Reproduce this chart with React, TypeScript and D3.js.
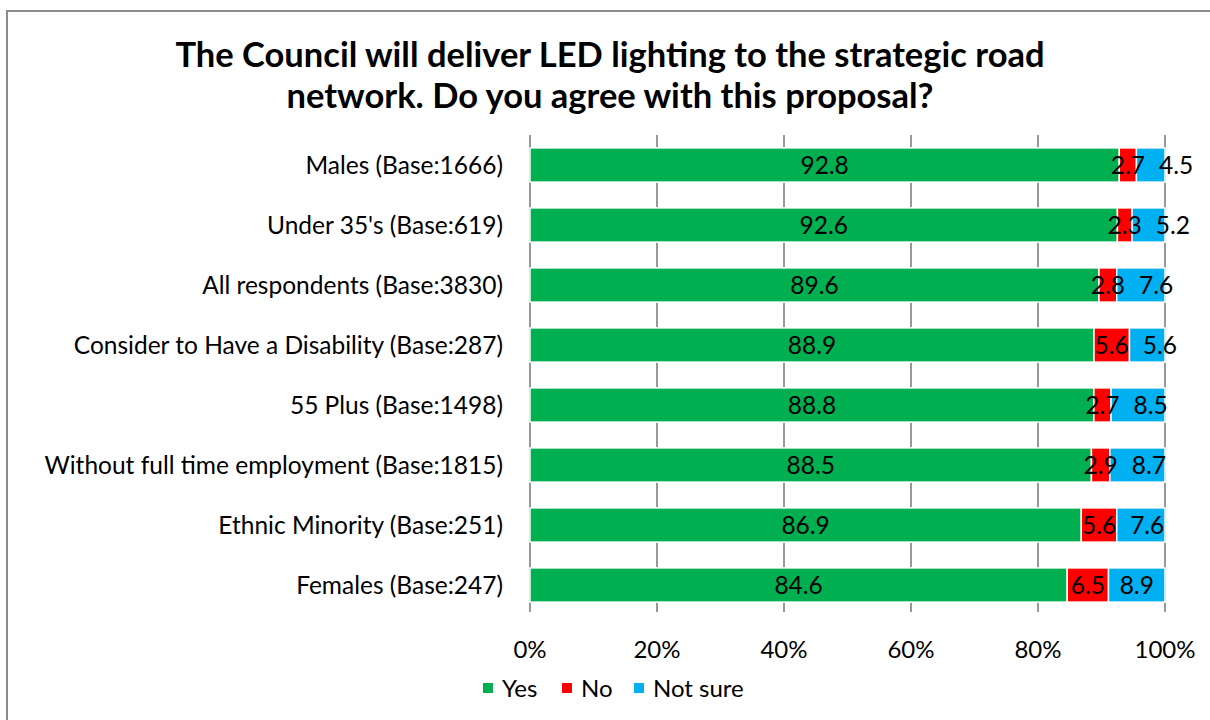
import React from "react";
import * as d3 from "d3";

const categories = [
  "Males (Base:1666)",
  "Under 35's (Base:619)",
  "All respondents (Base:3830)",
  "Consider to Have a Disability (Base:287)",
  "55 Plus (Base:1498)",
  "Without full time employment (Base:1815)",
  "Ethnic Minority (Base:251)",
  "Females (Base:247)",
];
const yesValues = [92.8, 92.6, 89.6, 88.9, 88.8, 88.5, 86.9, 84.6];
const noValues = [2.7, 2.3, 2.8, 5.6, 2.7, 2.9, 5.6, 6.5];
const notSureValues = [4.5, 5.2, 7.6, 5.6, 8.5, 8.7, 7.6, 8.9];
const seriesNames = ["Yes", "No", "Not sure"];
const seriesColors = ["#00B050", "#FF0000", "#00B0F0"];
const xTicks = [0, 0.2, 0.4, 0.6, 0.8, 1];
const titleLines = [
  "The Council will deliver LED lighting to the strategic road",
  "network. Do you agree with this proposal?",
];

const W = 1210;
const H = 720;
const FONT = "Lato, 'Open Sans', sans-serif";
const LABEL_SIZE = 24.5;

let ctx: CanvasRenderingContext2D | null = null;
function measure(text: string, size: number): number {
  if (!ctx) ctx = document.createElement("canvas").getContext("2d");
  if (!ctx) return text.length * size * 0.5;
  ctx.font = `${size}px Lato`;
  return ctx.measureText(text).width;
}

export default function App() {
  const rows = categories.map((c, i) => ({
    cat: c,
    Yes: yesValues[i],
    No: noValues[i],
    "Not sure": notSureValues[i],
  }));
  const stack = d3.stack<any>().keys(seriesNames).offset(d3.stackOffsetExpand);
  const layers = stack(rows);

  const x = d3.scaleLinear().domain([0, 1]).range([530, 1165]);
  const y = d3
    .scaleBand()
    .domain(categories)
    .range([135, 615])
    .paddingInner(0.43)
    .paddingOuter(0.215);
  const bw = y.bandwidth();

  // data labels, centred in segments, nudged apart when they collide
  const labels: { x: number; y: number; t: string; k: string }[] = [];
  categories.forEach((c, i) => {
    let prevRight = -Infinity;
    layers.forEach((layer, li) => {
      const d = layer[i];
      const t = (d.data as any)[seriesNames[li]].toFixed(1);
      const w = measure(t, LABEL_SIZE);
      let cx = (x(d[0]) + x(d[1])) / 2;
      const minLeft = prevRight + 14;
      if (cx - w / 2 < minLeft) cx = minLeft + w / 2;
      prevRight = cx + w / 2;
      labels.push({ x: cx, y: y(c)! + bw / 2, t, k: `${li}-${i}` });
    });
  });

  const legendX = [483, 562, 634];

  return (
    <svg
      width={W}
      height={H}
      style={{ position: "absolute", left: 0, top: 0, background: "#fff" }}
      fontFamily={FONT}
    >
      <rect x={0} y={0} width={W} height={H} fill="#fff" />
      <path d={`M7,${H} V11 H${W}`} fill="none" stroke="#8c8c8c" strokeWidth={2} />
      {titleLines.map((t, i) => (
        <text
          key={i}
          x={610}
          y={67 + i * 41}
          textAnchor="middle"
          fontWeight="bold"
          fontSize={34.5}
          fill="#000"
        >
          {t}
        </text>
      ))}
      {xTicks.map((t) => (
        <line key={t} x1={x(t)} x2={x(t)} y1={135} y2={612} stroke="#999" strokeWidth={2} />
      ))}
      {layers.map((layer, li) =>
        layer.map((d, i) => (
          <rect
            key={`${li}-${i}`}
            x={x(d[0])}
            y={y(categories[i])!}
            width={x(d[1]) - x(d[0])}
            height={bw}
            fill={seriesColors[li]}
            stroke="#fff"
            strokeWidth={1.5}
          />
        ))
      )}
      {labels.map((l) => (
        <text
          key={`l${l.k}`}
          x={l.x}
          y={l.y}
          dy="0.35em"
          textAnchor="middle"
          fontSize={LABEL_SIZE}
          fill="#000"
        >
          {l.t}
        </text>
      ))}
      {categories.map((c) => (
        <text
          key={c}
          x={503}
          y={y(c)! + bw / 2}
          dy="0.35em"
          textAnchor="end"
          fontSize={24.5}
          fill="#000"
        >
          {c}
        </text>
      ))}
      {xTicks.map((t) => (
        <text
          key={t}
          x={x(t)}
          y={650}
          dy="0.35em"
          textAnchor="middle"
          fontSize={24}
          fill="#000"
        >
          {d3.format(".0%")(t)}
        </text>
      ))}
      {seriesNames.map((s, i) => (
        <g key={s}>
          <rect x={legendX[i]} y={683} width={10} height={10} fill={seriesColors[i]} />
          <text x={legendX[i] + 19} y={689} dy="0.35em" fontSize={24} fill="#000">
            {s}
          </text>
        </g>
      ))}
    </svg>
  );
}
